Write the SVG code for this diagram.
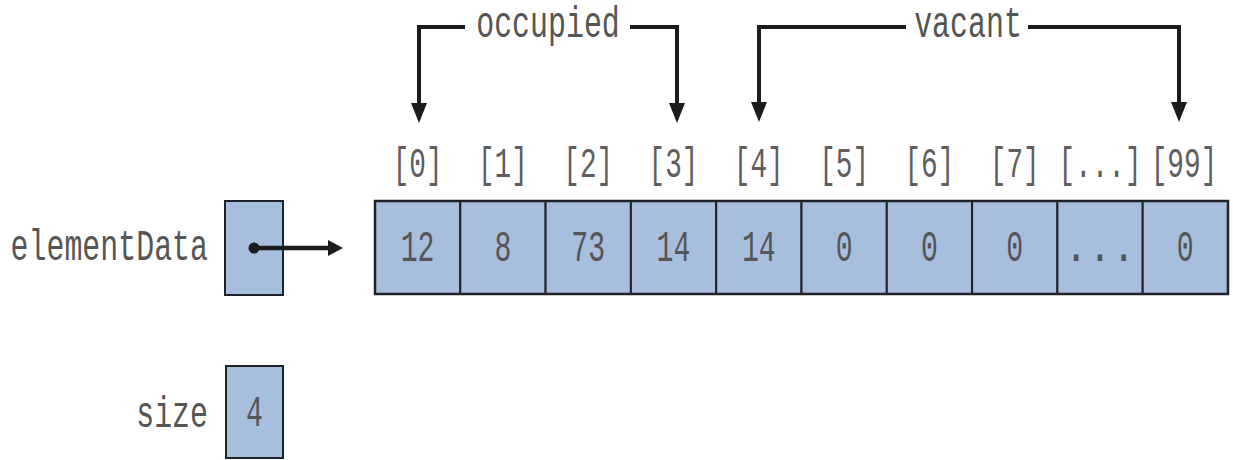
<svg xmlns="http://www.w3.org/2000/svg" width="1233" height="460" viewBox="0 0 1233 460">
<defs>
<style>
.cell{fill:#a7bedd;stroke:#1f2326;stroke-width:2}
.outer{fill:none;stroke:#1f2326;stroke-width:2.5}
.t{font-family:"Liberation Mono","DejaVu Sans Mono",monospace;font-size:44px;fill:#555555}
.idx{font-family:"Liberation Mono","DejaVu Sans Mono",monospace;font-size:42px;fill:#5e5e5e}
.conn{fill:none;stroke:#1c1c1c;stroke-width:4;stroke-linejoin:miter}
.ptr{fill:none;stroke:#1c1c1c;stroke-width:4.5}
</style>
<marker id="ah" markerUnits="userSpaceOnUse" markerWidth="20" markerHeight="16" viewBox="0 0 20 16" refX="15" refY="8" orient="auto">
<path d="M0,0 L20,8 L0,16 z" fill="#1c1c1c"/>
</marker>
<marker id="ahs" markerUnits="userSpaceOnUse" markerWidth="15" markerHeight="16" viewBox="0 0 15 16" refX="10" refY="8" orient="auto">
<path d="M0,0 L15,8 L0,16 z" fill="#1c1c1c"/>
</marker>
</defs>
<rect width="1233" height="460" fill="#ffffff"/>

<g id="label-occupied">
<text class="t" text-anchor="middle" transform="translate(548,37) scale(0.68,1)">occupied</text>
</g>
<g id="label-vacant">
<text class="t" text-anchor="middle" transform="translate(968,37) scale(0.68,1)">vacant</text>
</g>

<g id="indices">
<text class="idx" text-anchor="middle" transform="translate(417.6,177) scale(0.66,1)">[0]</text>
<text class="idx" text-anchor="middle" transform="translate(502.9,177) scale(0.66,1)">[1]</text>
<text class="idx" text-anchor="middle" transform="translate(588.2,177) scale(0.66,1)">[2]</text>
<text class="idx" text-anchor="middle" transform="translate(673.5,177) scale(0.66,1)">[3]</text>
<text class="idx" text-anchor="middle" transform="translate(758.8,177) scale(0.66,1)">[4]</text>
<text class="idx" text-anchor="middle" transform="translate(844.1,177) scale(0.66,1)">[5]</text>
<text class="idx" text-anchor="middle" transform="translate(929.4,177) scale(0.66,1)">[6]</text>
<text class="idx" text-anchor="middle" transform="translate(1014.7,177) scale(0.66,1)">[7]</text>
<text class="idx" text-anchor="middle" transform="translate(1100,177) scale(0.66,1)">[...]</text>
<text class="idx" text-anchor="middle" transform="translate(1184,177) scale(0.66,1)">[99]</text>
</g>

<g id="elementData">
<text class="t" text-anchor="end" transform="translate(208,260) scale(0.68,1)">elementData</text>
<rect class="cell" x="225" y="201" width="58" height="94"/>
</g>

<g id="array">
<rect class="cell" x="375" y="201" width="85.3" height="93"/>
<rect class="cell" x="460.3" y="201" width="85.3" height="93"/>
<rect class="cell" x="545.6" y="201" width="85.3" height="93"/>
<rect class="cell" x="630.9" y="201" width="85.3" height="93"/>
<rect class="cell" x="716.2" y="201" width="85.3" height="93"/>
<rect class="cell" x="801.5" y="201" width="85.3" height="93"/>
<rect class="cell" x="886.8" y="201" width="85.3" height="93"/>
<rect class="cell" x="972.1" y="201" width="85.3" height="93"/>
<rect class="cell" x="1057.4" y="201" width="85.3" height="93"/>
<rect class="cell" x="1142.7" y="201" width="85.3" height="93"/>
<rect class="outer" x="375" y="201" width="853" height="93"/>
<text class="t" text-anchor="middle" transform="translate(417.6,261) scale(0.64,1)">12</text>
<text class="t" text-anchor="middle" transform="translate(502.9,261) scale(0.64,1)">8</text>
<text class="t" text-anchor="middle" transform="translate(588.2,261) scale(0.64,1)">73</text>
<text class="t" text-anchor="middle" transform="translate(673.5,261) scale(0.64,1)">14</text>
<text class="t" text-anchor="middle" transform="translate(758.8,261) scale(0.64,1)">14</text>
<text class="t" text-anchor="middle" transform="translate(844.1,261) scale(0.64,1)">0</text>
<text class="t" text-anchor="middle" transform="translate(929.4,261) scale(0.64,1)">0</text>
<text class="t" text-anchor="middle" transform="translate(1014.7,261) scale(0.64,1)">0</text>
<text class="t" text-anchor="middle" transform="translate(1100,261) scale(0.9,1)">...</text>
<text class="t" text-anchor="middle" transform="translate(1185.3,261) scale(0.64,1)">0</text>
</g>

<g id="size">
<text class="t" text-anchor="end" transform="translate(208,427) scale(0.68,1)">size</text>
<rect class="cell" x="226" y="366" width="57" height="92"/>
<text class="t" text-anchor="middle" transform="translate(254.5,426) scale(0.64,1)">4</text>
</g>

<g id="connectors">
<path class="conn" d="M465,27 H419 V118" marker-end="url(#ah)"/>
<path class="conn" d="M630,27 H677 V118" marker-end="url(#ah)"/>
<path class="conn" d="M906,27 H759 V117" marker-end="url(#ah)"/>
<path class="conn" d="M1028,27 H1179 V117" marker-end="url(#ah)"/>
<path class="ptr" d="M254,248 H338" marker-end="url(#ahs)"/>
<circle cx="254" cy="248" r="5.5" fill="#1c1c1c"/>
</g>
</svg>
